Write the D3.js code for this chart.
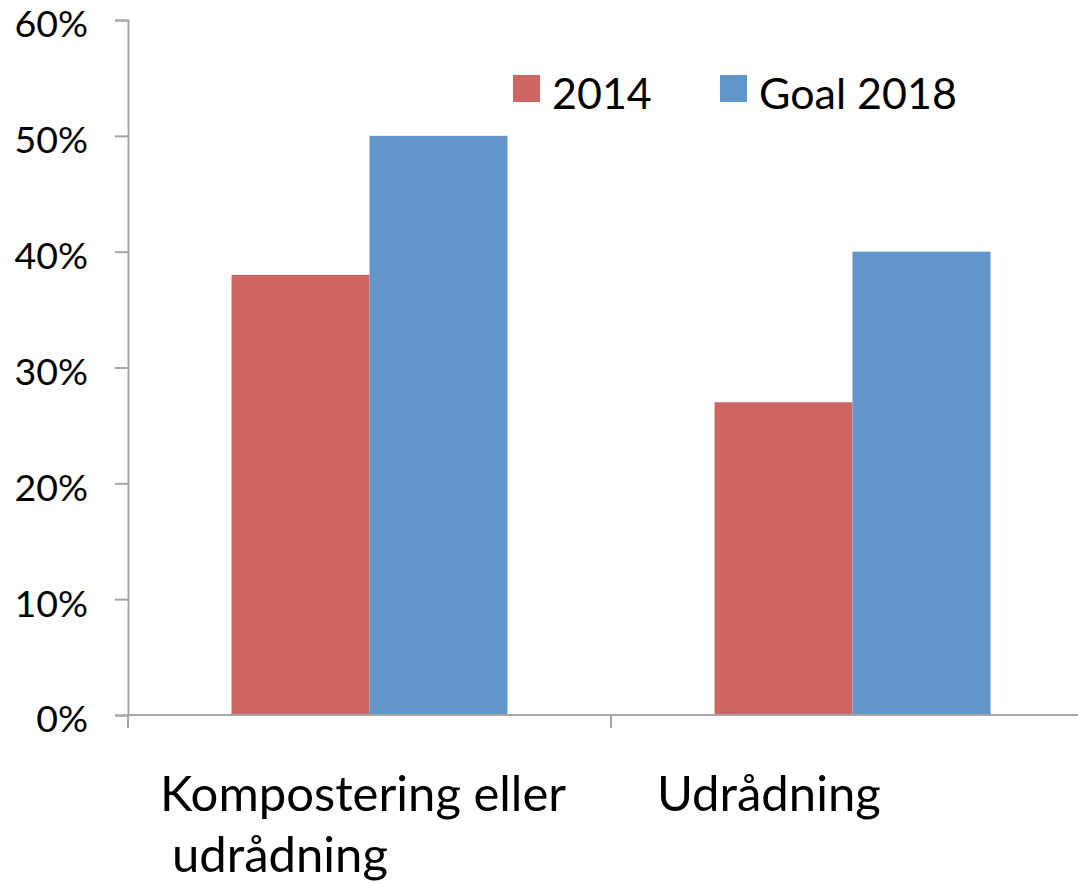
<!DOCTYPE html>
<html>
<head>
<meta charset="utf-8">
<script src="https://cdn.jsdelivr.net/npm/d3@7"></script>
<style>
  body { margin: 0; background: #fff; }
  text { font-family: Lato, "Open Sans", sans-serif; fill: #000; }
</style>
</head>
<body>
<svg id="chart" width="1078" height="884"></svg>
<script>
// data
const categories = ['Kompostering eller udrådning', 'Udrådning'];
const categoryLines = [['Kompostering eller', 'udrådning'], ['Udrådning']];
const seriesNames = ['2014', 'Goal 2018'];
const values2014 = [0.38, 0.27];
const valuesGoal2018 = [0.50, 0.40];
const yTicks = [0, 0.1, 0.2, 0.3, 0.4, 0.5, 0.6];

const colors = ['#CD6660', '#6197C8'];
const axisColor = '#A6A6A6';

const svg = d3.select('#chart');

const plotLeft = 128, plotTop = 20, plotBottom = 715;
const bandWidth = 483;

// outer scale: one band per category
const x = d3.scaleBand()
  .domain(categories)
  .range([plotLeft, plotLeft + bandWidth * categories.length])
  .padding(0);

// inner scale: gap width 150% like excel
const xInner = d3.scaleBand()
  .domain(seriesNames)
  .range([0, x.bandwidth()])
  .paddingInner(0)
  .paddingOuter(0.75);

const y = d3.scaleLinear()
  .domain([0, 0.6])
  .range([plotBottom, plotTop]);

const rows = categories.map((c, i) => ({
  cat: c,
  vals: [
    {name: seriesNames[0], v: values2014[i]},
    {name: seriesNames[1], v: valuesGoal2018[i]}
  ]
}));

// bars
const groups = svg.selectAll('g.grp')
  .data(rows)
  .join('g')
  .attr('class', 'grp')
  .attr('transform', d => `translate(${x(d.cat)},0)`);

groups.selectAll('rect')
  .data(d => d.vals)
  .join('rect')
  .attr('x', d => xInner(d.name))
  .attr('y', d => y(d.v))
  .attr('width', xInner.bandwidth())
  .attr('height', d => y(0) - y(d.v))
  .attr('fill', (d, i) => colors[i]);

// y axis
const yAxis = d3.axisLeft(y)
  .tickValues(yTicks)
  .tickFormat(d3.format('.0%'))
  .tickSize(13)
  .tickPadding(27);

const gy = svg.append('g')
  .attr('transform', `translate(${plotLeft},0)`)
  .call(yAxis);
gy.select('.domain').attr('stroke', axisColor).attr('stroke-width', 2);
gy.selectAll('.tick line').attr('stroke', axisColor).attr('stroke-width', 2);
gy.selectAll('.tick text')
  .attr('font-size', 37.5)
  .attr('font-family', 'Lato, sans-serif')
  .attr('fill', '#000')
  .attr('dy', '0.45em');

// x axis line + category ticks
svg.append('line')
  .attr('x1', plotLeft).attr('x2', 1078)
  .attr('y1', y(0)).attr('y2', y(0))
  .attr('stroke', axisColor).attr('stroke-width', 2);

svg.selectAll('line.xtick')
  .data(categories)
  .join('line')
  .attr('class', 'xtick')
  .attr('x1', d => x(d)).attr('x2', d => x(d))
  .attr('y1', y(0)).attr('y2', y(0) + 13)
  .attr('stroke', axisColor).attr('stroke-width', 2);

// category labels
const labelDx = [32, 46];
const labels = svg.selectAll('text.cat')
  .data(categories)
  .join('text')
  .attr('class', 'cat')
  .attr('font-size', 49)
  .attr('y', 811);

labels.each(function (d, i) {
  const t = d3.select(this);
  categoryLines[i].forEach((line, j) => {
    t.append('tspan')
      .attr('x', x(d) + labelDx[i] + (j > 0 ? 12 : 0))
      .attr('dy', j === 0 ? 0 : 61)
      .text(line);
  });
});

// legend
const legendX = [513, 720];
const legend = svg.selectAll('g.leg')
  .data(seriesNames)
  .join('g')
  .attr('class', 'leg')
  .attr('transform', (d, i) => `translate(${legendX[i]},75)`);

legend.append('rect')
  .attr('width', 27).attr('height', 27)
  .attr('fill', (d, i) => colors[i]);

legend.append('text')
  .attr('x', 39)
  .attr('y', 34)
  .attr('font-size', 43)
  .text(d => d);
</script>
</body>
</html>
